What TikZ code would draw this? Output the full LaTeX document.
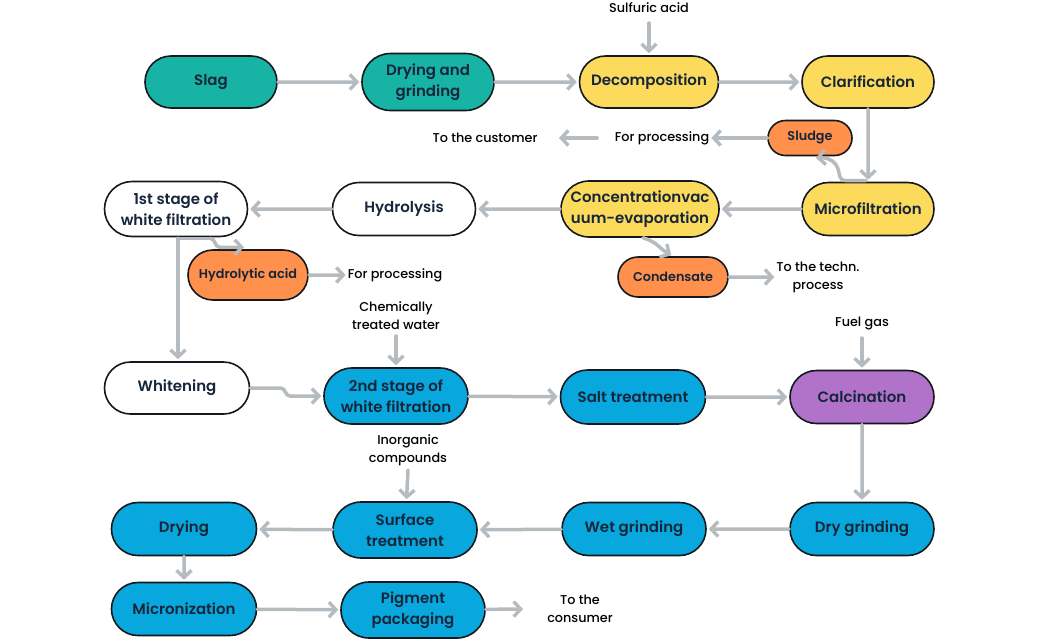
\documentclass[tikz,border=0pt]{standalone}
\usepackage{fontspec}
\setmainfont{Poppins}[UprightFont={* Medium}]
\newfontfamily\nodefont{Poppins}[UprightFont={* SemiBold}]
\usetikzlibrary{shapes.misc,arrows.meta,calc}
\definecolor{teal}{HTML}{17B3A5}
\definecolor{yel}{HTML}{FCDA5C}
\definecolor{org}{HTML}{FF914D}
\definecolor{blu}{HTML}{08A8DE}
\definecolor{pur}{HTML}{B073C9}
\definecolor{arrg}{HTML}{B6BBBF}
\definecolor{bord}{HTML}{15181C}
\definecolor{ntext}{HTML}{16263A}
\tikzset{
  pill/.style={rounded rectangle, draw=bord, line width=1.6pt, inner sep=0pt,
    minimum width=144pt, minimum height=53pt, align=center,
    font=\nodefont\fontsize{15}{20.5}\selectfont, text=ntext},
  small/.style={pill, font=\nodefont\fontsize{12.8}{16}\selectfont},
  lbl/.style={align=center, inner sep=0pt, font=\fontsize{12.8}{18}\selectfont, text=black},
  arr/.style={draw=arrg, line width=3.5pt, line cap=round,
    -{Straight Barb[length=7pt,width=15pt,line width=3.4pt]}, shorten >=2pt},
  ln/.style={draw=arrg, line width=3.5pt, line cap=round}
}
\begin{document}
\begin{tikzpicture}[x=1pt,y=-1pt]
\useasboundingbox[fill=white] (0,0) rectangle (1040,640);
% Row 1
\node[pill, fill=teal, minimum width=132pt, minimum height=52pt] (slag) at (211,82) {Slag};
\node[pill, fill=teal, minimum width=132pt, minimum height=57pt] (dry1) at (428,82) {Drying and\\grinding};
\node[pill, fill=yel, minimum width=139pt, minimum height=52pt] (dec) at (649,82) {Decomposition};
\node[pill, fill=yel, minimum width=132pt, minimum height=52pt] (cla) at (868,82) {Clarification};
\node[lbl] (sulf) at (649,8) {Sulfuric acid};
\coordinate (sulfa) at (649,23);
% Row 1.5
\node[small, fill=org, minimum width=84pt, minimum height=35pt] (sludge) at (810,138) {Sludge};
\node[lbl] (fp1) at (662,138) {For processing};
\node[lbl] (cust) at (485,138) {To the customer};
\coordinate (fp1a) at (597,138);
\coordinate (custa) at (557,138);
% Row 2
\node[pill, fill=white, minimum width=143pt, minimum height=55pt] (wf1) at (176,209) {1st stage of\\white filtration};
\node[pill, fill=white, minimum width=143pt, minimum height=53pt] (hyd) at (404,209) {Hydrolysis};
\node[pill, fill=yel, minimum width=158pt, minimum height=56pt] (conc) at (640,209) {Concentrationvac\\uum-evaporation};
\node[pill, fill=yel, minimum width=132pt, minimum height=53pt] (mic) at (868,209) {Microfiltration};
% Row 2.5
\node[small, fill=org, minimum width=120pt, minimum height=50pt] (hacid) at (248,275) {Hydrolytic acid};
\node[lbl] (fp2) at (395,275) {For processing};
\node[small, fill=org, minimum width=110pt, minimum height=40pt] (cond) at (673,277) {Condensate};
\node[lbl] (tech) at (818,277) {To the techn.\\process};
\node[lbl] (chem) at (396,316) {Chemically\\treated water};
\coordinate (chema) at (396,336);
\node[lbl] (fuel) at (862,323) {Fuel gas};
\coordinate (fuela) at (862,338);
% Row 3
\node[pill, fill=white, minimum width=145pt, minimum height=52pt] (whit) at (177,388) {Whitening};
\node[pill, fill=blu, minimum width=144pt, minimum height=56pt] (wf2) at (396,396) {2nd stage of\\white filtration};
\node[pill, fill=blu, minimum width=145pt, minimum height=54pt] (salt) at (633,397) {Salt treatment};
\node[pill, fill=pur, minimum width=144pt, minimum height=53pt] (calc) at (862,397) {Calcination};
\node[lbl] (inorg) at (408,450) {Inorganic\\compounds};
\coordinate (inorga) at (408,470);
% Row 4
\node[pill, fill=blu, minimum width=145pt, minimum height=53pt] (dry2) at (184,529) {Drying};
\node[pill, fill=blu, minimum width=144pt, minimum height=56pt] (surf) at (405,530) {Surface\\treatment};
\node[pill, fill=blu, minimum width=144pt, minimum height=53pt] (wet) at (634,529) {Wet grinding};
\node[pill, fill=blu, minimum width=144pt, minimum height=53pt] (dgr) at (862,529) {Dry grinding};
% Row 5
\node[pill, fill=blu, minimum width=145pt, minimum height=53pt] (micro) at (184,609) {Micronization};
\node[pill, fill=blu, minimum width=144pt, minimum height=56pt] (pig) at (413,610) {Pigment\\packaging};
\node[lbl] (cons) at (580,609) {To the\\consumer};
\coordinate (consa) at (525,609);
% Connectors
\draw[arr] (slag) -- (dry1);
\draw[arr] (dry1) -- (dec);
\draw[arr] (dec) -- (cla);
\draw[arr] (sulfa) -- (dec);
\draw[arr] (cla) -- (mic);
\draw[arr] (sludge) -- (fp1);
\draw[arr] (fp1a) -- (custa);
\draw[arr] ($(mic.north)+(-2,-1)$) -- ++(-18,0) .. controls +(-12,0) and +(6,10) .. ++(-12,-16) .. controls +(-4,-6) and +(10,-1) .. ($(sludge.south)+(4,2)$);
\draw[arr] (mic) -- (conc);
\draw[arr] (conc) -- (hyd);
\draw[arr] (hyd) -- (wf1);
\draw[arr] ($(conc.south)+(3,0)$) .. controls +(14,4) and +(-14,-8) .. (cond.north);
\draw[arr] (cond) -- (tech);
\coordinate (wfb) at ($(wf1.south)+(2,1)$);
\draw[ln] (wfb) -- ++(32,0);
\draw[arr] ($(wfb)+(32,0)$) .. controls +(6,0) and +(-6,0) .. ++(10,9) -- ++(26,0);
\draw[arr] (wfb) -- (wfb |- whit.north);
\draw[arr] (hacid) -- (fp2);
\draw[arr] (chema) -- (wf2);
\draw[arr] (fuela) -- (calc);
\draw[arr] (whit.east) -- ++(30,0) .. controls +(6,0) and +(-6,0) .. ++(10,8) -- (wf2.west);
\draw[arr] (wf2) -- (salt);
\draw[arr] (salt) -- (calc);
\draw[arr] (calc) -- (dgr);
\draw[arr] (dgr) -- (wet);
\draw[arr] (wet) -- (surf);
\draw[arr] (inorga) -- (surf);
\draw[arr] (surf) -- (dry2);
\draw[arr] (dry2) -- (micro);
\draw[arr] (micro) -- (pig);
\draw[arr] (pig) -- (consa);
\end{tikzpicture}
\end{document}
